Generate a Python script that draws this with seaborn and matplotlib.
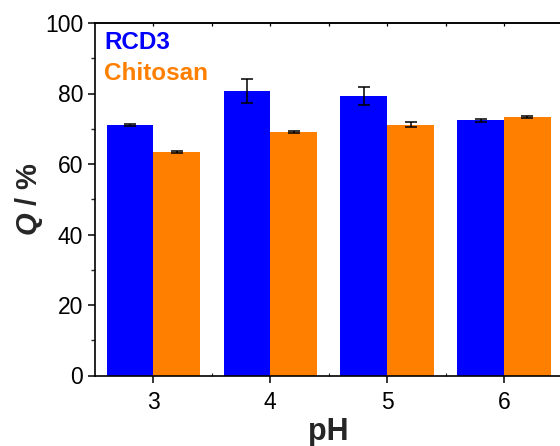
import matplotlib
matplotlib.use("Agg")
import matplotlib.pyplot as plt
import seaborn as sns
import pandas as pd
from matplotlib.ticker import MultipleLocator, FixedLocator

# Adsorption efficiency Q (%) versus pH for both sorbents
ph_values = ["3", "4", "5", "6"]
rcd3_q = [71.1, 80.7, 79.3, 72.4]
rcd3_err = [0.3, 3.5, 2.5, 0.5]
chitosan_q = [63.4, 69.1, 71.1, 73.3]
chitosan_err = [0.4, 0.3, 0.7, 0.3]
materials = ["RCD3", "Chitosan"]
colors = ["#0000FF", "#FF7F00"]

sns.set_theme(style="ticks")
plt.rcParams["font.family"] = ["Liberation Sans", "DejaVu Sans"]
plt.rcParams["mathtext.fontset"] = "custom"
plt.rcParams["mathtext.rm"] = "Liberation Sans:bold"
plt.rcParams["mathtext.bf"] = "Liberation Sans:bold"
plt.rcParams["mathtext.it"] = "Liberation Sans:bold:italic"
plt.rcParams["mathtext.bfit"] = "Liberation Sans:bold:italic"

df = pd.DataFrame({
    "pH": ph_values * 2,
    "Q": rcd3_q + chitosan_q,
    "err": rcd3_err + chitosan_err,
    "Material": [materials[0]] * 4 + [materials[1]] * 4,
})

fig = plt.figure(figsize=(5.6, 4.46), dpi=100)
ax = fig.add_axes([95 / 560, 1 - 375.5 / 446, (562.5 - 95) / 560, (375.5 - 23) / 446])

sns.barplot(data=df, x="pH", y="Q", hue="Material", order=ph_values,
            hue_order=materials, palette=colors, errorbar=None,
            saturation=1, width=0.8, linewidth=0, ax=ax)

# Error bars placed on the centres of the drawn bars
for container, errs in zip(ax.containers, [rcd3_err, chitosan_err]):
    xs = [p.get_x() + p.get_width() / 2 for p in container.patches]
    ys = [p.get_height() for p in container.patches]
    ax.errorbar(xs, ys, yerr=errs, fmt="none", ecolor="black",
                elinewidth=1.1, capsize=4.5, capthick=1.1, zorder=5)

ax.set_xlim(-0.5, 3.5)
ax.set_ylim(0, 100)
ax.yaxis.set_major_locator(MultipleLocator(20))
ax.yaxis.set_minor_locator(MultipleLocator(10))
ax.xaxis.set_minor_locator(FixedLocator([0.5, 1.5, 2.5]))

for side in ["left", "bottom", "top", "right"]:
    ax.spines[side].set_linewidth(1.2)
    ax.spines[side].set_color("black")

ax.tick_params(axis="both", which="major", labelsize=16.5, width=1.1,
               length=5, direction="out", color="black", labelcolor="black")
ax.tick_params(axis="y", which="minor", length=3, width=1.0, direction="out")
ax.tick_params(axis="x", which="minor", length=2, width=0.8, direction="in")
ax.tick_params(axis="x", which="major", pad=6)

# Short inward ticks along the top frame
top = ax.secondary_xaxis("top")
top.set_xticks([0, 0.5, 1, 1.5, 2, 2.5, 3])
top.tick_params(axis="x", which="major", direction="in", length=2,
                width=0.9, labeltop=False, color="black")
top.spines["top"].set_linewidth(1.2)

ax.set_xlabel("pH", fontsize=22, fontweight="bold", labelpad=2)
ax.set_ylabel(r"$\mathbfit{Q}$ / %", fontsize=21, fontweight="bold", labelpad=0)

if ax.get_legend() is not None:
    ax.get_legend().remove()

# Text-only legend
ax.text(0.02, 0.945, materials[0], transform=ax.transAxes, color=colors[0],
        fontsize=17.5, fontweight="bold", va="center", ha="left")
ax.text(0.02, 0.857, materials[1], transform=ax.transAxes, color=colors[1],
        fontsize=17.5, fontweight="bold", va="center", ha="left")

fig.savefig("out.png", dpi=100)
